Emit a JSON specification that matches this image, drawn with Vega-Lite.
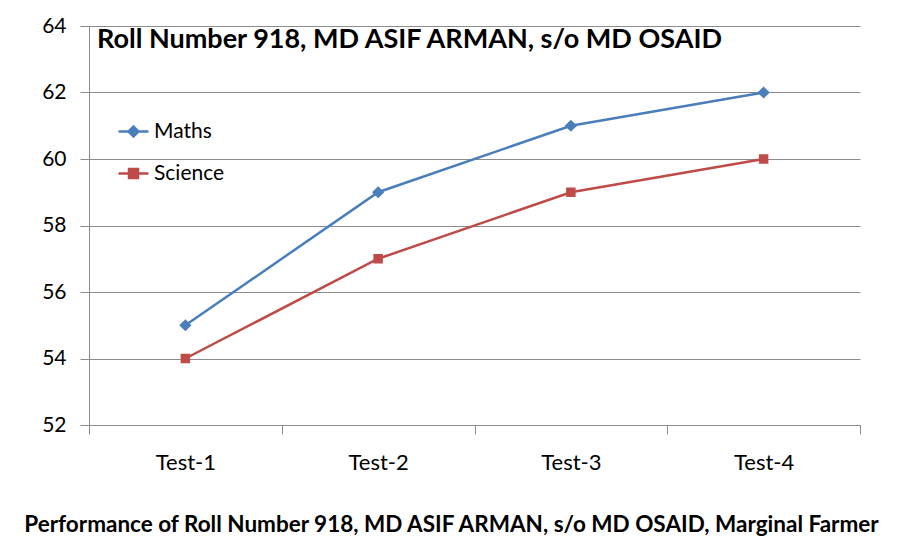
{
  "$schema": "https://vega.github.io/schema/vega-lite/v6.json",
  "width": 771,
  "height": 399,
  "autosize": "none",
  "padding": {"left": 89, "top": 26, "right": 40, "bottom": 135},
  "background": "white",
  "title": {
    "text": "Roll Number 918, MD ASIF ARMAN, s/o MD OSAID",
    "anchor": "start",
    "frame": "group",
    "baseline": "top",
    "offset": 0,
    "dx": 8,
    "dy": 39,
    "font": "Lato",
    "fontSize": 27,
    "fontWeight": "bold",
    "color": "black"
  },
  "data": {
    "values": [
      {"test": "Test-1", "subject": "Maths", "score": 55},
      {"test": "Test-2", "subject": "Maths", "score": 59},
      {"test": "Test-3", "subject": "Maths", "score": 61},
      {"test": "Test-4", "subject": "Maths", "score": 62},
      {"test": "Test-1", "subject": "Science", "score": 54},
      {"test": "Test-2", "subject": "Science", "score": 57},
      {"test": "Test-3", "subject": "Science", "score": 59},
      {"test": "Test-4", "subject": "Science", "score": 60}
    ]
  },
  "config": {
    "view": {"stroke": null},
    "font": "Lato"
  },
  "layer": [
    {
      "mark": {"type": "line", "strokeWidth": 2.5},
      "encoding": {
        "x": {
          "field": "test", "type": "nominal",
          "scale": {"paddingInner": 0, "paddingOuter": 0},
          "axis": {
            "title": "Performance of Roll Number 918, MD ASIF ARMAN, s/o MD OSAID, Marginal Farmer",
            "titleFont": "Lato", "titleFontSize": 22.5, "titleFontWeight": "bold", "titleColor": "black",
            "titlePadding": 40,
            "titleX": 362,
            "titleAnchor": "middle",
            "titleAlign": "center",
            "titleLimit": 1000,
            "labelAngle": 0, "labelFontSize": 22, "labelColor": "black", "labelPadding": 18,
            "tickBand": "extent", "tickSize": 9, "tickColor": "#8c8c8c",
            "domainColor": "#8c8c8c", "grid": false
          }
        },
        "y": {
          "field": "score", "type": "quantitative",
          "scale": {"domain": [52, 64], "nice": false, "zero": false},
          "axis": {
            "title": null,
            "values": [52, 54, 56, 58, 60, 62, 64],
            "labelFontSize": 21, "labelColor": "black", "labelPadding": 14,
            "tickSize": 9, "tickColor": "#8c8c8c",
            "domainColor": "#8c8c8c", "gridColor": "#8c8c8c", "gridOpacity": 1
          }
        },
        "color": {
          "field": "subject", "type": "nominal",
          "scale": {"domain": ["Maths", "Science"], "range": ["#4A7EBB", "#BE4B48"]},
          "legend": {
            "title": null,
            "orient": "none",
            "legendX": 28,
            "legendY": 89,
            "labelFontSize": 21,
            "labelColor": "black",
            "labelOffset": 4,
            "rowPadding": 15,
            "symbolSize": 900,
            "symbolStrokeWidth": 2.5,
            "encode": {
              "symbols": {
                "update": {
                  "shape": {"signal": "datum.label === 'Maths' ? 'M-1,0H1M0,-0.33L0.33,0L0,0.33L-0.33,0Z' : 'M-1,0H1M-0.3,-0.3H0.3V0.3H-0.3Z'"},
                  "fill": {"signal": "datum.label === 'Maths' ? '#4A7EBB' : '#BE4B48'"},
                  "stroke": {"signal": "datum.label === 'Maths' ? '#4A7EBB' : '#BE4B48'"},
                  "strokeWidth": {"value": 2.5},
                  "fillOpacity": {"value": 1},
                  "opacity": {"value": 1}
                }
              }
            }
          }
        }
      }
    },
    {
      "transform": [{"filter": "datum.subject === 'Maths'"}],
      "mark": {"type": "point", "filled": true, "opacity": 1, "shape": "diamond", "size": 150, "color": "#4A7EBB"},
      "encoding": {
        "x": {"field": "test", "type": "nominal"},
        "y": {"field": "score", "type": "quantitative"}
      }
    },
    {
      "transform": [{"filter": "datum.subject === 'Science'"}],
      "mark": {"type": "point", "filled": true, "opacity": 1, "shape": "square", "size": 90, "color": "#BE4B48"},
      "encoding": {
        "x": {"field": "test", "type": "nominal"},
        "y": {"field": "score", "type": "quantitative"}
      }
    }
  ]
}
